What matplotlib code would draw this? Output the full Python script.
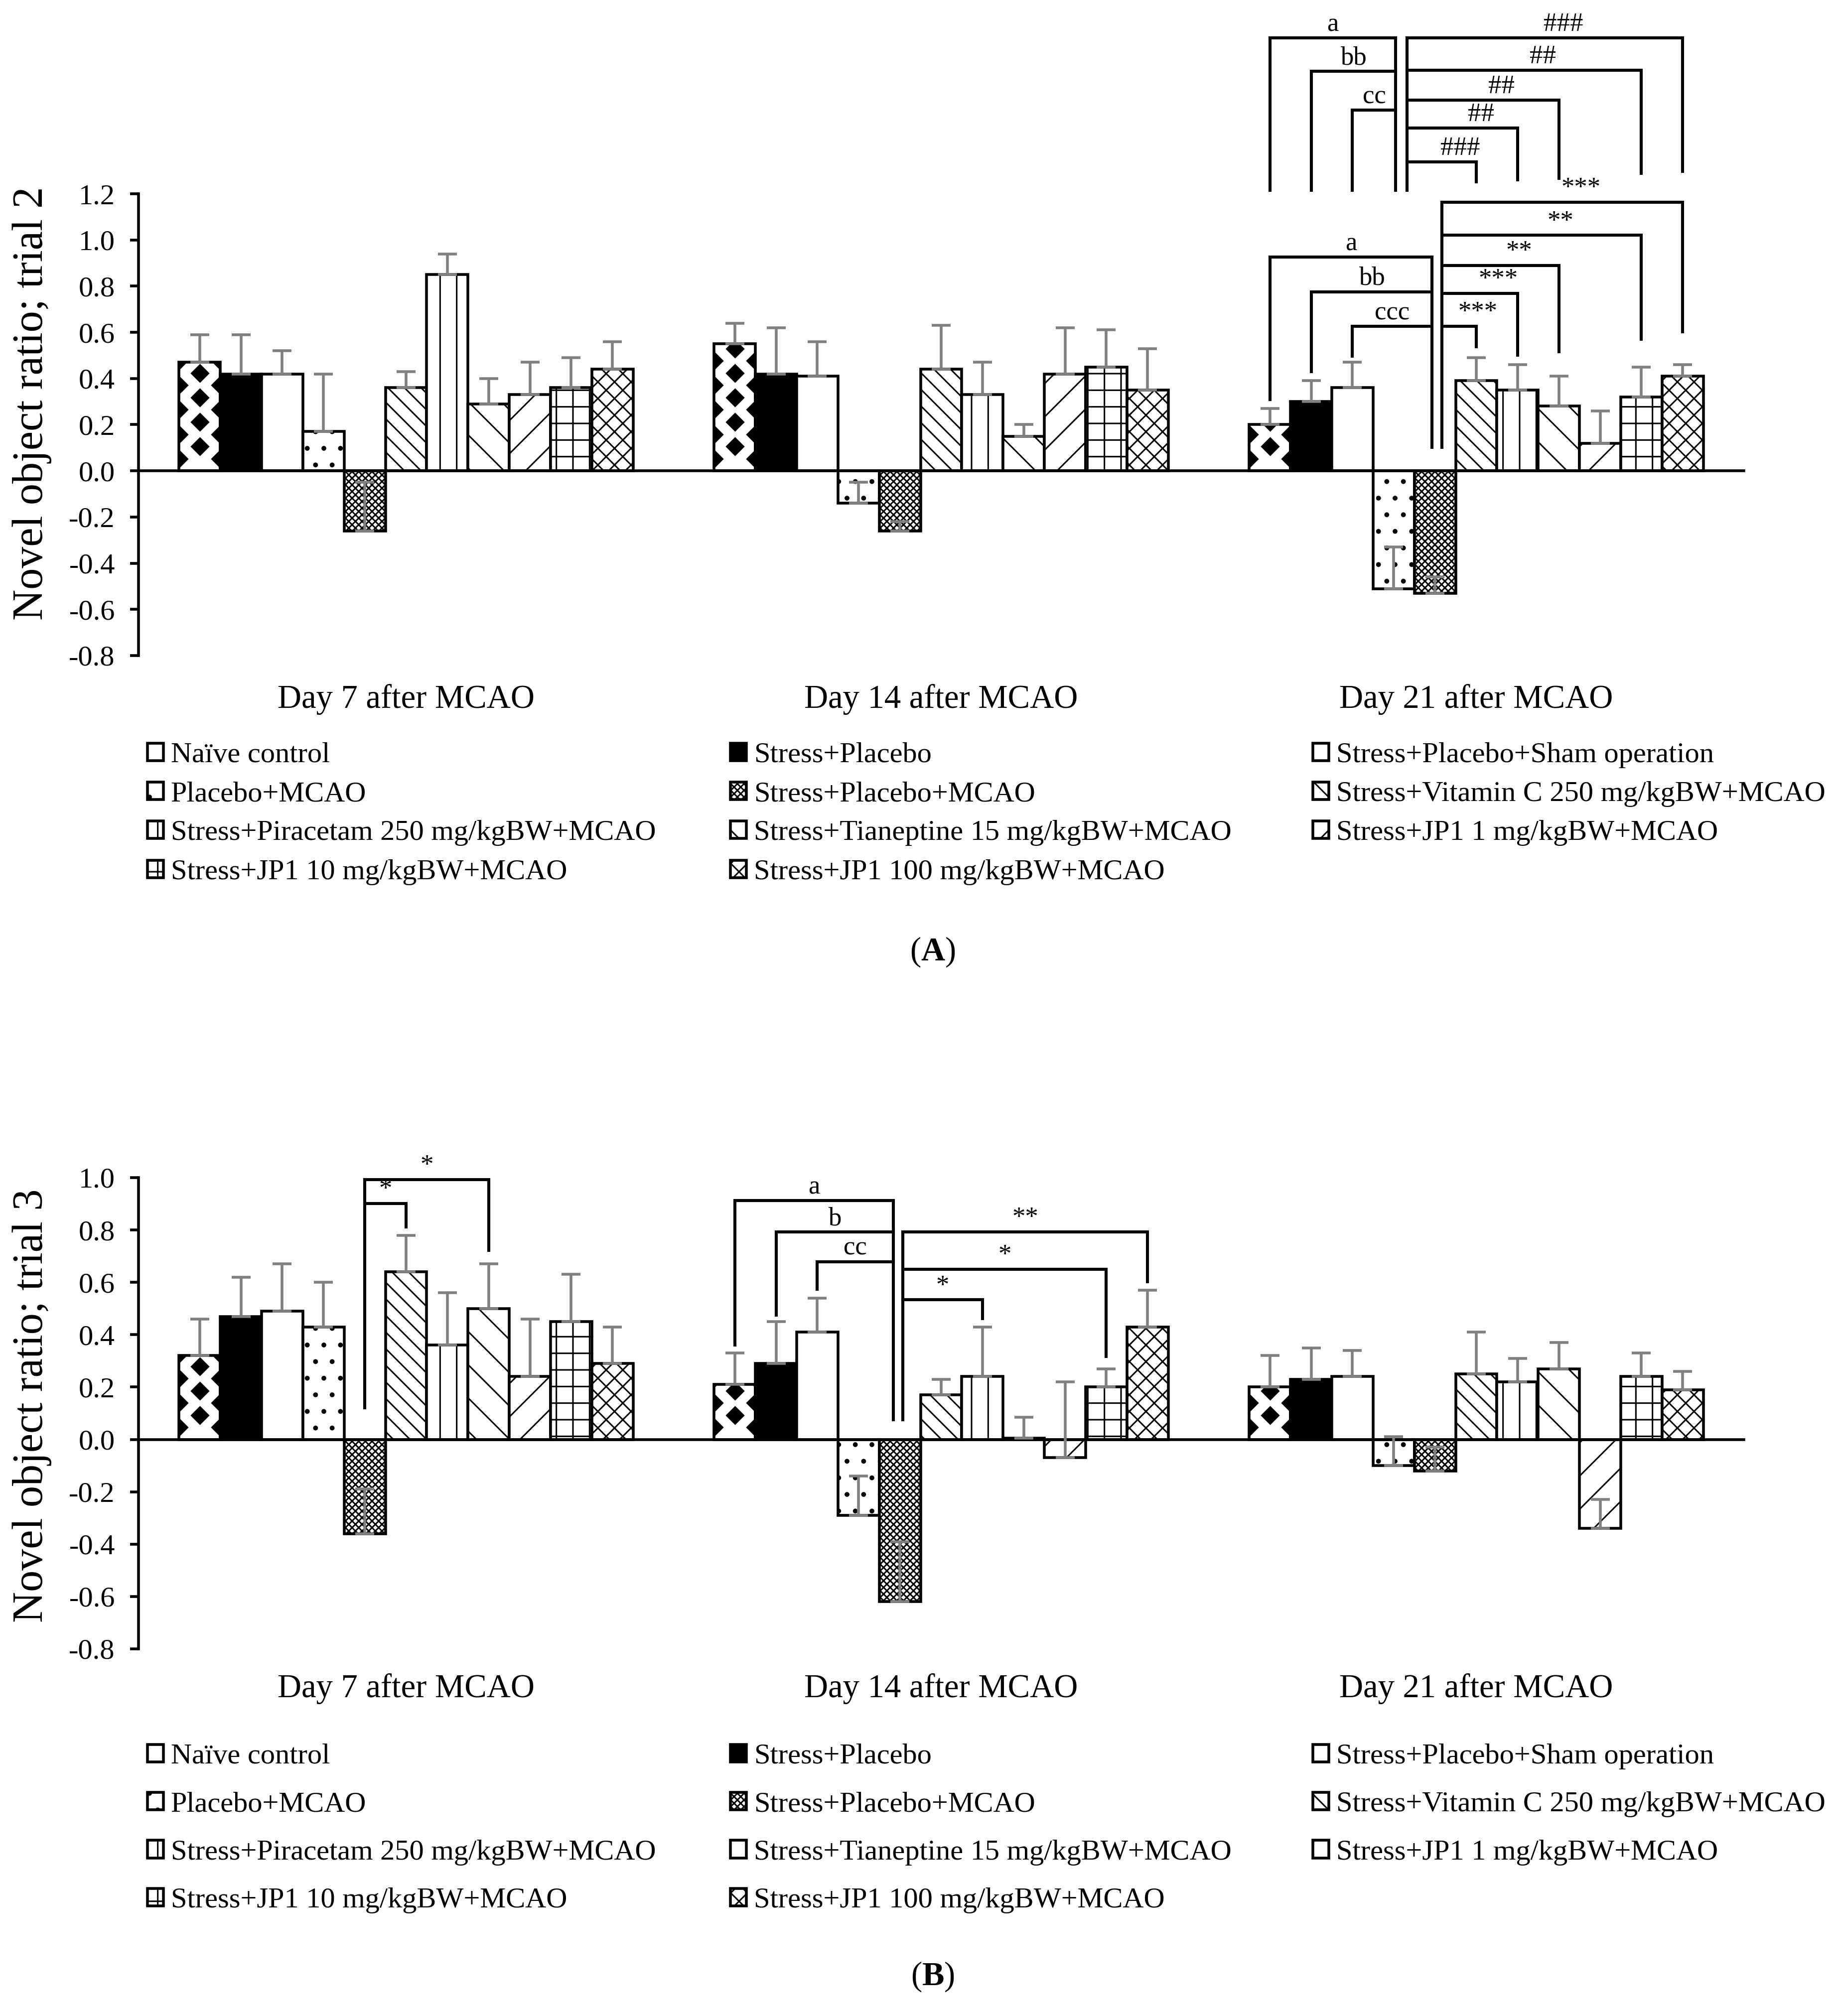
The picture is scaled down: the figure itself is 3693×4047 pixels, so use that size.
import matplotlib
matplotlib.use('Agg')
import matplotlib.pyplot as plt
from matplotlib.ticker import FormatStrFormatter
import numpy as np

plt.rcParams['font.family'] = ['Liberation Serif', 'DejaVu Serif']
plt.rcParams['mathtext.fontset'] = 'custom'
plt.rcParams['mathtext.rm'] = 'Liberation Serif'
plt.rcParams['mathtext.bf'] = 'Liberation Serif:bold'
plt.rcParams['hatch.linewidth'] = 1.1

W, H, DPI = 3693, 4047, 200

groups = ['Day 7 after MCAO', 'Day 14 after MCAO', 'Day 21 after MCAO']
series = ['Naïve control', 'Stress+Placebo', 'Stress+Placebo+Sham operation',
          'Placebo+MCAO', 'Stress+Placebo+MCAO', 'Stress+Vitamin C 250 mg/kgBW+MCAO',
          'Stress+Piracetam 250 mg/kgBW+MCAO', 'Stress+Tianeptine 15 mg/kgBW+MCAO',
          'Stress+JP1 1 mg/kgBW+MCAO', 'Stress+JP1 10 mg/kgBW+MCAO',
          'Stress+JP1 100 mg/kgBW+MCAO']

# rows = day 7 / 14 / 21, columns = series
trial2_mean = [
    [0.47, 0.42, 0.42, 0.17, -0.26, 0.36, 0.85, 0.29, 0.33, 0.36, 0.44],
    [0.55, 0.42, 0.41, -0.14, -0.26, 0.44, 0.33, 0.15, 0.42, 0.45, 0.35],
    [0.20, 0.30, 0.36, -0.51, -0.53, 0.39, 0.35, 0.28, 0.12, 0.32, 0.41],
]
trial2_err = [
    [0.12, 0.17, 0.10, 0.25, 0.21, 0.07, 0.09, 0.11, 0.14, 0.13, 0.12],
    [0.09, 0.20, 0.15, 0.09, 0.04, 0.19, 0.14, 0.05, 0.20, 0.16, 0.18],
    [0.07, 0.09, 0.11, 0.18, 0.07, 0.10, 0.11, 0.13, 0.14, 0.13, 0.05],
]
trial3_mean = [
    [0.32, 0.47, 0.49, 0.43, -0.36, 0.64, 0.36, 0.50, 0.24, 0.45, 0.29],
    [0.21, 0.29, 0.41, -0.29, -0.62, 0.17, 0.24, 0.005, -0.07, 0.20, 0.43],
    [0.20, 0.23, 0.24, -0.10, -0.12, 0.25, 0.22, 0.27, -0.34, 0.24, 0.19],
]
trial3_err = [
    [0.14, 0.15, 0.18, 0.17, 0.17, 0.14, 0.20, 0.17, 0.22, 0.18, 0.14],
    [0.12, 0.16, 0.13, 0.15, 0.23, 0.06, 0.19, 0.08, 0.29, 0.07, 0.14],
    [0.12, 0.12, 0.10, 0.11, 0.09, 0.16, 0.09, 0.10, 0.11, 0.09, 0.07],
]

# significance brackets: (day, pivot bar, pivot shift, pivot bottom, label shift,
#                         [(bar, height, leg bottom, label), ...])
brackets_A = [
    (2, 3, 0.05, 1.216, 0.0, [(0, 1.875, 1.216, 'a'), (1, 1.730, 1.216, 'bb'),
                              (2, 1.562, 1.216, 'cc')]),
    (2, 3, 0.32, 1.216, 0.45, [(5, 1.338, 1.252, '###'), (6, 1.485, 1.261, '##'),
                               (7, 1.606, 1.266, '##'), (9, 1.735, 1.288, '##'),
                               (10, 1.875, 1.297, '###')]),
    (2, 4, -0.07, 0.102, 0.0, [(0, 0.925, 0.308, 'a'), (1, 0.776, 0.429, 'bb'),
                               (2, 0.626, 0.497, 'ccc')]),
    (2, 4, 0.17, 0.102, 0.45, [(5, 0.626, 0.537, '***'), (6, 0.769, 0.501, '***'),
                               (7, 0.889, 0.515, '**'), (9, 1.020, 0.569, '**'),
                               (10, 1.163, 0.603, '***')]),
]
brackets_B = [
    (0, 4, 0.0, 0.12, 0.0, [(5, 0.901, 0.812, '*'), (7, 0.992, 0.723, '*')]),
    (1, 4, -0.16, 0.076, 0.0, [(0, 0.912, 0.36, 'a'), (1, 0.792, 0.475, 'b'),
                               (2, 0.679, 0.573, 'cc')]),
    (1, 4, 0.07, 0.076, 0.0, [(6, 0.533, 0.462, '*'), (9, 0.650, 0.316, '*'),
                              (10, 0.792, 0.603, '**')]),
]

fills = ['white', 'black', 'white', 'white', 'white', 'white',
         'white', 'white', 'white', 'white', 'white']
hatches = [None, None, None, '.', 'xxxxx', '\\\\', '|', '\\', '/', '+', 'xx']

n = len(series)
gap = 1.96
cat_w = n + gap


def bar_x(g, j):
    return g * cat_w + gap / 2 + j + 0.5


def px_rect(left, top, right, bottom):
    return [left / W, 1 - bottom / H, (right - left) / W, (bottom - top) / H]


def draw_panel(ax, means, errs, ylim, brackets, period, label_y):
    handles = []
    for j in range(n):
        xs = [bar_x(g, j) for g in range(len(groups))]
        vals = [means[g][j] for g in range(len(groups))]
        ers = [errs[g][j] for g in range(len(groups))]
        bars = ax.bar(xs, vals, width=1.0, color=fills[j], edgecolor='black',
                      linewidth=2.0, hatch=hatches[j], zorder=2, label=series[j])
        handles.append(bars)
        ax.errorbar(xs, vals, yerr=[np.zeros(len(ers)), ers], fmt='none',
                    ecolor='#808080', elinewidth=2.0, capsize=7, capthick=2.0,
                    zorder=4)
        if j == 0:
            # diamond pattern of the naive control bars
            for patch, x0, v in zip(bars.patches, xs, vals):
                yc = np.arange(period, v + period, period)
                ye = np.arange(period / 2, v + period, period)
                px = np.concatenate([np.full(len(yc), x0), np.full(len(ye), x0 - 0.5),
                                     np.full(len(ye), x0 + 0.5)])
                py = np.concatenate([yc, ye, ye])
                sc = ax.scatter(px, py, marker='D', s=95, color='black',
                                linewidths=0, zorder=2.5)
                sc.set_clip_path(patch)

    ax.set_xlim(0, len(groups) * cat_w)
    ax.set_ylim(*ylim)
    ticks = np.round(np.arange(ylim[0], ylim[1] + 0.01, 0.2), 1) + 0.0
    ax.set_yticks(ticks)
    ax.yaxis.set_major_formatter(FormatStrFormatter('%.1f'))
    ax.tick_params(axis='y', direction='out', length=6, width=2, labelsize=21, pad=11)
    ax.tick_params(axis='x', length=0, labelbottom=False)
    for s in ['top', 'right']:
        ax.spines[s].set_visible(False)
    ax.spines['left'].set_linewidth(2)
    ax.spines['bottom'].set_linewidth(2)
    ax.spines['bottom'].set_position(('data', 0))
    ax.spines['bottom'].set_zorder(3)
    ax.set_facecolor('none')

    for g, name in enumerate(groups):
        ax.text(g * cat_w + cat_w / 2, label_y, name, transform=ax.get_xaxis_transform(),
                ha='center', va='center', fontsize=24)

    for day, pbar, pshift, plow, ldx, legs in brackets:
        px = bar_x(day, pbar) + pshift
        top = max(leg[1] for leg in legs)
        ax.plot([px, px], [plow, top], color='black', lw=2.2, clip_on=False,
                solid_capstyle='projecting', zorder=5)
        for bar, h, low, lab in legs:
            bx = bar_x(day, bar)
            ax.plot([bx, bx, px], [low, h, h], color='black', lw=2.2, clip_on=False,
                    solid_capstyle='projecting', solid_joinstyle='miter', zorder=5)
            ax.annotate(lab, ((bx + px) / 2 + ldx, h), xytext=(0, 5),
                        textcoords='offset points', ha='center', va='baseline',
                        fontsize=19, annotation_clip=False)
    return handles


def draw_legend(fig, handles, top_px, spacing):
    xs = [296, 1466, 2635]
    for c in range(3):
        idx = list(range(c, n, 3))
        fig.legend([handles[i] for i in idx], [series[i] for i in idx],
                   loc='upper left', bbox_to_anchor=(xs[c] / W, 1 - top_px / H),
                   frameon=False, fontsize=21, handlelength=0.55, handleheight=0.55,
                   handletextpad=0.25, borderpad=0, borderaxespad=0,
                   labelspacing=spacing)


fig = plt.figure(figsize=(W / DPI, H / DPI), dpi=DPI)
axA = fig.add_axes(px_rect(278, 389, 3500, 1316))
axB = fig.add_axes(px_rect(278, 2364, 3500, 3310))

hA = draw_panel(axA, trial2_mean, trial2_err, (-0.8, 1.2), brackets_A, 0.106, -0.095)
hB = draw_panel(axB, trial3_mean, trial3_err, (-0.8, 1.0), brackets_B, 0.093, -0.085)

fig.text(64 / W, 1 - 810 / H, 'Novel object ratio; trial 2', rotation=90,
         ha='center', va='center', fontsize=31)
fig.text(64 / W, 1 - 2822 / H, 'Novel object ratio; trial 3', rotation=90,
         ha='center', va='center', fontsize=31)

draw_legend(fig, hA, 1490, 0.45)
draw_legend(fig, hB, 3500, 0.76)

fig.text(1872 / W, 1 - 1911 / H, r'($\mathbf{A}$)', ha='center', va='center', fontsize=24)
fig.text(1872 / W, 1 - 3968 / H, r'($\mathbf{B}$)', ha='center', va='center', fontsize=24)

fig.savefig('out.png', dpi=DPI)
